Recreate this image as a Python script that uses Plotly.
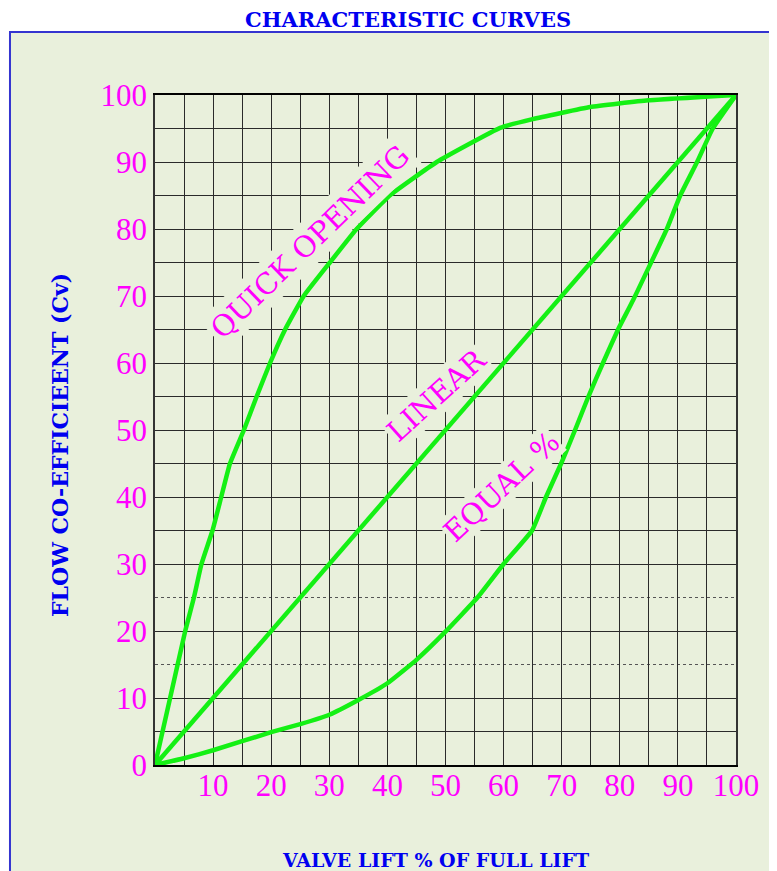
import plotly.graph_objects as go

# ---- data ----
quick_x = [0, 2.6, 5.2, 6.7, 8.0, 9.9, 11.4, 12.9, 15.3, 17.5, 19.8, 22.4, 25.6,
           30.1, 34.7, 40.4, 48.5, 59.4, 65.0, 74.9, 84.9, 100]
quick_y = [0, 10, 20, 25, 30, 35, 40, 45, 50, 55, 60, 65, 70,
           75, 80, 85, 90, 95.1, 96.4, 98.2, 99.2, 100]

linear_x = [0, 100]
linear_y = [0, 100]

equal_x = [0, 5, 10, 20, 25, 30, 35, 40, 45, 50, 55.5, 60, 64.9, 67.3, 69.9, 72.3,
           74.6, 77.1, 79.7, 82.3, 88.1, 90.4, 93.3, 96, 100]
equal_y = [0, 1.0, 2.2, 4.9, 6.1, 7.5, 9.7, 12.2, 15.7, 19.9, 25, 30, 35, 40, 45, 50,
           55, 60, 65, 69.4, 80, 85, 90, 95, 100]

x_ticks = [10, 20, 30, 40, 50, 60, 70, 80, 90, 100]
y_ticks = [0, 10, 20, 30, 40, 50, 60, 70, 80, 90, 100]
x_minor = [5, 15, 25, 35, 45, 55, 65, 75, 85, 95]
y_minor = [5, 35, 45, 55, 65, 75, 85, 95]
y_dotted = [15, 25]

curve_labels = ["QUICK OPENING", "LINEAR", "EQUAL %"]
label_x = [26.7, 48.5, 59.6]
label_y = [78.0, 55.2, 41.5]
label_angle = [-44, -42, -43]
label_pad = [3, 1, 0]

title_text = "CHARACTERISTIC CURVES"
x_title = "VALVE LIFT % OF FULL LIFT"
y_title = "FLOW CO-EFFICIEENT (Cv)"

# ---- styles ----
BG = "#E9F0DC"
GREEN = "#14F014"
MAGENTA = "#FF00FF"
BLUE = "#0000F0"
GRID = "#2A2A2A"

fig = go.Figure()
for xs, ys in [(quick_x, quick_y), (linear_x, linear_y), (equal_x, equal_y)]:
    fig.add_trace(go.Scatter(x=xs, y=ys, mode="lines",
                             line=dict(color=GREEN, width=4.5, shape="spline", smoothing=0.35),
                             showlegend=False, hoverinfo="skip"))

shapes = [dict(type="rect", xref="paper", yref="paper",
               x0=-0.2496, x1=1.0637, y0=-0.25, y1=1.094,
               fillcolor=BG, line=dict(color="#3434D0", width=2), layer="below")]
for yv in y_dotted:
    shapes.append(dict(type="line", xref="x", yref="y", x0=0, x1=100, y0=yv, y1=yv,
                       line=dict(color="#555555", width=1, dash="dot"), layer="below"))

annotations = []
for t, ax_, ay_, ang, pad in zip(curve_labels, label_x, label_y, label_angle, label_pad):
    annotations.append(dict(x=ax_, y=ay_, xref="x", yref="y", text=t, showarrow=False,
                            textangle=ang, bgcolor=BG, borderpad=pad,
                            font=dict(family="DejaVu Serif", size=29, color=MAGENTA)))
annotations.append(dict(x=0.4355, y=1.112, xref="paper", yref="paper", text="<b>%s</b>" % title_text,
                        xanchor="center", yanchor="middle", showarrow=False,
                        font=dict(family="DejaVu Serif", size=21, color=BLUE)))
annotations.append(dict(x=0.482, y=-0.1418, xref="paper", yref="paper", text="<b>%s</b>" % x_title,
                        xanchor="center", yanchor="middle", showarrow=False,
                        font=dict(family="DejaVu Serif", size=19, color=BLUE)))
annotations.append(dict(x=-0.1635, y=0.4776, xref="paper", yref="paper", text="<b>%s</b>" % y_title,
                        xanchor="center", yanchor="middle", showarrow=False, textangle=-90,
                        font=dict(family="DejaVu Serif", size=22, color=BLUE)))

fig.update_layout(
    width=769, height=863,
    margin=dict(l=147, r=41, t=87, b=106),
    paper_bgcolor="white", plot_bgcolor="rgba(0,0,0,0)",
    shapes=shapes, annotations=annotations,
    xaxis=dict(range=[0, 100], tickmode="array", tickvals=x_ticks,
               showgrid=True, gridcolor=GRID, gridwidth=1.3, zeroline=False,
               showline=True, linecolor="#000000", linewidth=1.5, mirror=True,
               ticks="", ticklabelstandoff=-8,
               tickfont=dict(family="Liberation Serif", size=31, color=MAGENTA),
               minor=dict(tickmode="array", tickvals=x_minor, showgrid=True,
                          gridcolor=GRID, gridwidth=1.3),
               fixedrange=True),
    yaxis=dict(range=[0, 100], tickmode="array", tickvals=y_ticks,
               showgrid=True, gridcolor=GRID, gridwidth=1.3, zeroline=False,
               showline=True, linecolor="#333333", linewidth=1.5, mirror=True,
               ticks="", ticklabelstandoff=0,
               tickfont=dict(family="Liberation Serif", size=31, color=MAGENTA),
               minor=dict(tickmode="array", tickvals=y_minor, showgrid=True,
                          gridcolor=GRID, gridwidth=1.3),
               fixedrange=True),
)

fig.write_html("out.html")
